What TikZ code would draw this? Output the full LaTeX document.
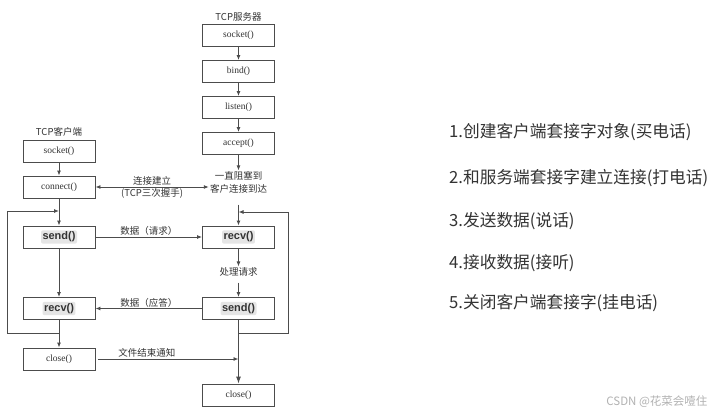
\documentclass[tikz,border=0pt]{standalone}
\usepackage{fontspec}
\setmainfont{Liberation Serif}
\setsansfont{Liberation Sans}
\newfontfamily\cjk{Noto Sans CJK SC}
\usetikzlibrary{arrows.meta, positioning}
\definecolor{lineGray}{gray}{0.3}
\definecolor{textGray}{gray}{0.2}
\definecolor{codeBg}{gray}{0.9}
\definecolor{markGray}{gray}{0.7}

\begin{document}
\begin{tikzpicture}[x=1pt, y=-1pt,
    box/.style={draw=lineGray, line width=0.9pt, minimum width=72pt, minimum height=22pt, inner sep=0pt, font=\fontsize{9.5}{11}\selectfont, text=textGray},
    fnlabel/.style={fill=codeBg, rounded corners=2pt, inner xsep=1.5pt, inner ysep=1.5pt, font=\sffamily\bfseries\fontsize{11}{12}\selectfont, text=textGray},
    note/.style={font=\cjk\fontsize{9.5}{13}\selectfont, text=textGray, inner sep=1pt},
    arr/.style={draw=lineGray, line width=0.9pt, -{Latex[length=5pt,width=4pt]}},
    item/.style={anchor=west, font=\cjk\fontsize{16.7}{20}\selectfont, text=textGray, inner sep=0pt}]
    \useasboundingbox[fill=white] (0,0) rectangle (723,412);

    % client
    \node[note] (ctitle) at (59,132) {TCP客户端};
    \node[box] (csocket) at (59,151) {socket()};
    \node[box] (cconnect) at (59,187) {connect()};
    \node[box, label={[fnlabel]center:send()}] (csend) at (59,237) {};
    \node[box, label={[fnlabel]center:recv()}] (crecv) at (59,308.5) {};
    \node[box] (cclose) at (59,359) {close()};

    % server
    \node[note] (stitle) at (238.5,17) {TCP服务器};
    \node[box] (ssocket) at (238.5,35) {socket()};
    \node[box] (sbind) at (238.5,71.5) {bind()};
    \node[box] (slisten) at (238.5,107.5) {listen()};
    \node[box] (saccept) at (238.5,143.5) {accept()};
    \node[note, align=center] (swait) at (238.5,182.5) {一直阻塞到\\客户连接到达};
    \node[box, label={[fnlabel]center:recv()}] (srecv) at (238.5,237) {};
    \node[note] (sproc) at (238.5,272) {处理请求};
    \node[box, label={[fnlabel]center:send()}] (ssend) at (238.5,308.5) {};
    \node[box] (sclose) at (238.5,395) {close()};

    \coordinate (cloopt) at (59,211);
    \coordinate (cloopb) at (59,333);
    \coordinate (sloopt) at (238.5,212);
    \coordinate (sloopb) at (238.5,333);
    \coordinate (sfin) at (238.5,359);

    % client flow
    \draw[arr] (csocket) -- (cconnect);
    \draw[arr] (cconnect) -- (csend);
    \draw[arr] (csend) -- (crecv);
    \draw[arr] (crecv) -- (cclose);
    \draw[arr] (cloopb) -- (7,333) -- (7,211) -- (cloopt);

    % server flow
    \draw[arr] (ssocket) -- (sbind);
    \draw[arr] (sbind) -- (slisten);
    \draw[arr] (slisten) -- (saccept);
    \draw[arr] (saccept) -- (swait);
    \draw[arr, shorten <=10pt] (swait) -- (srecv);
    \draw[arr] (srecv) -- (sproc);
    \draw[arr, shorten <=5pt] (sproc) -- (ssend);
    \draw[arr, -{Latex[length=7pt,width=5pt]}] (ssend) -- (sclose);
    \draw[arr] (sloopb) -- (288,333) -- (288,212) -- (sloopt);

    % messages
    \draw[arr, {Latex[length=5pt,width=4pt]}-{Latex[length=5pt,width=4pt]}] (cconnect.east) -- (cconnect.east -| swait.west)
        node[note, midway, above] {连接建立}
        node[note, midway, below] {(TCP三次握手)};
    \draw[arr] (csend) -- (srecv) node[note, midway, above] {数据（请求）};
    \draw[arr] (ssend) -- (crecv) node[note, midway, above] {数据（应答）};
    \draw[arr, shorten <=3pt] (cclose) -- (sfin) node[note, pos=0.36, above] {文件结束通知};

    % steps
    \node[item] (step1) at (449,132) {1.创建客户端套接字对象(买电话)};
    \node[item] (step2) at (449,178) {2.和服务端套接字建立连接(打电话)};
    \node[item] (step3) at (449,221) {3.发送数据(说话)};
    \node[item] (step4) at (449,263) {4.接收数据(接听)};
    \node[item] (step5) at (449,303) {5.关闭客户端套接字(挂电话)};

    \node[anchor=east, font=\cjk\fontsize{11.5}{13}\selectfont, text=markGray] (mark) at (711,402) {CSDN @花菜会噎住};
\end{tikzpicture}
\end{document}
